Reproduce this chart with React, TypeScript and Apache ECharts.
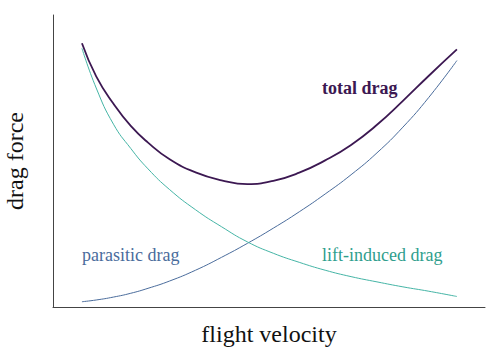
import React, { useEffect, useRef } from "react";
import * as echarts from "echarts";

const velocity = [6.7, 10, 14, 18, 22, 27, 33, 39, 45, 51, 57, 63, 69, 75, 81, 87, 93.5];
const parasiticDrag = [1.8, 2.4, 3.4, 4.7, 6.4, 8.9, 12.6, 17.0, 21.8, 27.0, 32.6, 38.7, 45.3, 52.8, 61.6, 71.8, 84.4];
const liftInducedDrag = [88.6, 75.0, 62.6, 54.3, 47.3, 40.2, 33.3, 27.5, 22.3, 18.4, 15.3, 12.6, 10.4, 8.6, 6.9, 5.4, 3.6];
const totalDrag = [90.3, 79.0, 69.6, 62.0, 56.3, 50.6, 46.1, 43.4, 42.1, 43.2, 46.0, 50.2, 55.5, 62.4, 70.6, 79.2, 88.2];

const FAMILY = "Liberation Serif";

export default function App() {
  const ref = useRef<HTMLDivElement>(null);
  useEffect(() => {
    if (!ref.current) return;
    const chart = echarts.init(ref.current, null, { renderer: "svg" });
    const pair = (ys: number[]) => velocity.map((v, i) => [v, ys[i]]);
    chart.setOption({
      animation: false,
      grid: { left: 53, right: 15, top: 15, bottom: 50, outerBoundsMode: "none", containLabel: false },
      title: [
        {
          text: "parasitic drag",
          left: 82,
          top: 246,
          padding: 0,
          textStyle: { fontFamily: FAMILY, fontSize: 18, fontWeight: "normal", color: "#4a6c9c" },
        },
        {
          text: "lift-induced drag",
          left: 322,
          top: 246,
          padding: 0,
          textStyle: { fontFamily: FAMILY, fontSize: 18, fontWeight: "normal", color: "#2f9e8d" },
        },
        {
          text: "total drag",
          left: 322,
          top: 79,
          padding: 0,
          textStyle: { fontFamily: FAMILY, fontSize: 18, fontWeight: "bold", color: "#3c1852" },
        },
      ],
      xAxis: {
        type: "value",
        min: 0,
        max: 100,
        name: "flight velocity",
        nameLocation: "middle",
        nameGap: 15,
        nameTextStyle: { fontFamily: FAMILY, fontSize: 24, color: "#111" },
        axisLine: { lineStyle: { color: "#444", width: 1 } },
        axisTick: { show: false },
        axisLabel: { show: false },
        splitLine: { show: false },
      },
      yAxis: {
        type: "value",
        min: 0,
        max: 100,
        name: "drag force",
        nameLocation: "middle",
        nameGap: 26,
        nameRotate: 90,
        nameTextStyle: { fontFamily: FAMILY, fontSize: 24, color: "#111" },
        axisLine: { show: true, lineStyle: { color: "#444", width: 1 } },
        axisTick: { show: false },
        axisLabel: { show: false },
        splitLine: { show: false },
      },
      series: [
        {
          name: "parasitic drag",
          type: "line",
          smooth: true,
          showSymbol: false,
          data: pair(parasiticDrag),
          lineStyle: { color: "#4a6c9c", width: 1 },
        },
        {
          name: "lift-induced drag",
          type: "line",
          smooth: true,
          showSymbol: false,
          data: pair(liftInducedDrag),
          lineStyle: { color: "#45b5a6", width: 1 },
        },
        {
          name: "total drag",
          type: "line",
          smooth: true,
          showSymbol: false,
          data: pair(totalDrag),
          lineStyle: { color: "#3c1852", width: 1.8 },
        },
      ],
    });
    return () => chart.dispose();
  }, []);
  return (
    <div
      ref={ref}
      style={{ position: "absolute", left: 0, top: 0, width: 500, height: 357 }}
    />
  );
}
